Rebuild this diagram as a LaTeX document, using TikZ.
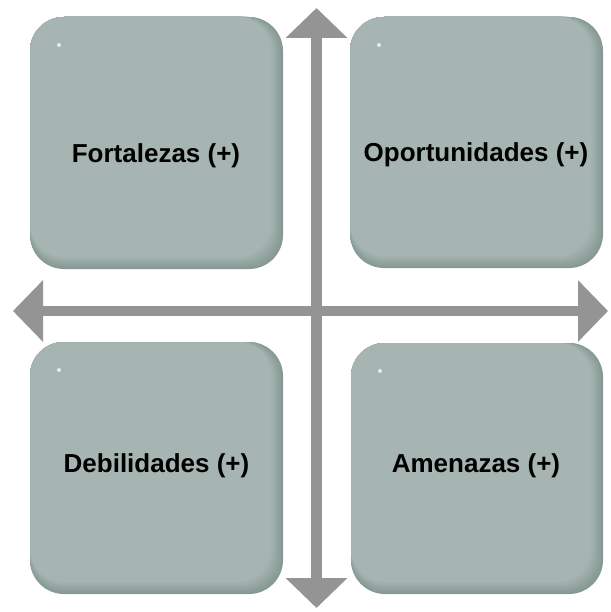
\documentclass[tikz,border=0pt]{standalone}
\usepackage{fontspec}
\setmainfont{Liberation Sans}
\usetikzlibrary{arrows.meta}
\definecolor{boxlight}{HTML}{A6B5B1}
\definecolor{boxdark}{HTML}{859893}
\definecolor{axisgray}{HTML}{949494}
\tikzset{
  axisline/.style={draw=axisgray, line width=10.5pt,
    {Triangle[width=60pt,length=30pt]}-{Triangle[width=60pt,length=30pt]}},
  boxtext/.style={font=\fontsize{26}{30}\selectfont\bfseries, text=black, inner sep=0pt, anchor=base},
  boxcorner/.style={rounded corners=34pt},
}
\newcommand\swotbox[4]{%
  \fill[boxdark, boxcorner] (#1,#2) rectangle (#3,#4);
  \foreach \k in {1,...,12}{%
    \pgfmathsetmacro\pc{\k*100/12}%
    \fill[boxlight!\pc!boxdark, boxcorner] (#1,#2) rectangle ({#3-\k},{#4-\k});
  }
  \fill[white, opacity=0.75] ({#1+29},{#2+28}) circle (2pt);
}
\begin{document}
\begin{tikzpicture}[x=1pt, y=-1pt]
  \useasboundingbox (0,0) rectangle (610,612);
  \fill[white] (0,0) rectangle (610,612);

  \swotbox{30}{17}{283}{269}
  \swotbox{350}{17}{603}{268}
  \swotbox{30}{342}{283}{594}
  \swotbox{351}{343}{603}{594}

  \node[boxtext] (fort) at (156,163) {Fortalezas (+)};
  \node[boxtext] (opor) at (476,162) {Oportunidades (+)};
  \node[boxtext] (debi) at (156.5,472) {Debilidades (+)};
  \node[boxtext] (amen) at (476,472) {Amenazas (+)};

  \coordinate (vtop) at (316.5,8);
  \coordinate (vbot) at (316.5,608);
  \coordinate (hleft) at (13,311);
  \coordinate (hright) at (608,311);
  \draw[axisline] (vtop) -- (vbot);
  \draw[axisline] (hleft) -- (hright);
\end{tikzpicture}
\end{document}
